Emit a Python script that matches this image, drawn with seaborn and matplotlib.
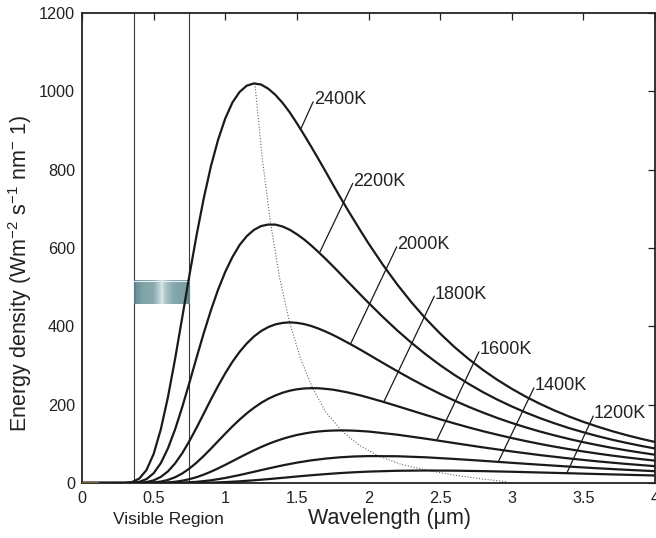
import numpy as np
import pandas as pd
import matplotlib
matplotlib.use("Agg")
import matplotlib.pyplot as plt
import seaborn as sns

# ---------------- data ----------------
# fine wavelength grid for the rising part and peaks (um)
wl_head = [0.0, 0.3, 0.35, 0.4, 0.45, 0.5, 0.55, 0.6, 0.65, 0.7, 0.75, 0.8,
           0.85, 0.9, 0.95, 1.0, 1.05, 1.1, 1.15, 1.2, 1.25, 1.3, 1.35, 1.4,
           1.45, 1.5, 1.55, 1.6, 1.65, 1.7, 1.75, 1.8, 1.85, 1.9, 1.95, 2.0]
wl_tail_fine = [2.1, 2.2, 2.3, 2.4, 2.5, 2.6, 2.7, 2.8, 2.9, 3.0, 3.1, 3.2,
                3.3, 3.4, 3.5, 3.6, 3.7, 3.8, 3.9, 4.0]
wl_tail_coarse = [2.2, 2.4, 2.6, 2.8, 3.0, 3.2, 3.4, 3.6, 3.8, 4.0]
wl_coarse = [0.0, 0.3, 0.4, 0.5, 0.6, 0.7, 0.8, 0.9, 1.0, 1.1, 1.2, 1.3, 1.4,
             1.5, 1.6, 1.7, 1.8, 1.9, 2.0, 2.2, 2.4, 2.6, 2.8, 3.0, 3.2, 3.4,
             3.6, 3.8, 4.0]

e_2400 = [0, 0.3, 2.6, 11.3, 33.1, 74.0, 136.7, 219.3, 317.2, 423.3, 530.7,
          633.1, 727.0, 808.8, 876.3, 930.7, 971.4, 998.4, 1014.4, 1020.2,
          1017.4, 1006.8, 991.0, 970.6, 946.4, 918.5, 889.1, 858.7, 827.4,
          795.6, 763.1, 731.3, 700.4, 670.4, 640.7, 611.8,
          557.4, 507.2, 461.3, 419.4, 381.6, 347.2, 316.3, 288.4, 263.2, 240.6,
          220.0, 201.6, 184.9, 169.8, 156.1, 143.8, 132.5, 122.3, 113.1, 104.7]
e_2200 = [0, 0.05, 0.5, 2.9, 9.9, 24.9, 50.7, 88.5, 137.0, 194.2, 256.5,
          320.4, 382.8, 441.0, 493.7, 539.1, 576.8, 607.6, 630.2, 646.2,
          656.0, 659.9, 659.7, 654.9, 646.6, 635.2, 622.0, 606.6, 589.8,
          572.4, 554.2, 535.5, 516.4, 497.5, 478.6, 460.1,
          424.0, 389.8, 357.9, 328.3, 300.9, 275.9, 252.9, 231.8, 212.8, 195.5,
          179.6, 165.2, 152.2, 140.2, 129.5, 119.6, 110.6, 102.5, 95.0, 88.1]
e_2000 = [0, 0.0, 0.1, 0.6, 2.3, 6.7, 15.5, 29.7, 50.1, 76.3, 107.2,
          141.4, 177.2, 213.3, 247.8, 280.1, 309.4, 334.7, 356.2, 374.0,
          387.9, 398.0, 405.0, 408.7, 410.2, 408.9, 405.8, 400.9, 394.4,
          386.8, 378.4, 369.1, 359.2, 349.3, 338.9, 328.2,
          306.7, 285.7, 265.3, 245.9, 227.5, 210.3, 194.4, 179.7, 165.9, 153.3,
          141.8, 131.1, 121.4, 112.4, 104.2, 96.7, 89.7, 83.4, 77.6, 72.2]
e_1800 = [0, 0.0, 0.0, 0.1, 0.4, 1.4, 3.6, 7.9, 14.7, 24.4, 37.0,
          52.1, 69.2, 87.7, 106.8, 125.9, 144.5, 161.8, 177.8, 191.9,
          204.5, 215.0, 223.5, 230.5, 235.7, 239.2, 241.3, 242.1, 241.9,
          240.4, 238.4, 235.2, 231.6, 227.5, 223.0, 218.0,
          207.5, 196.4, 185.0, 173.7, 162.6, 152.1, 141.9, 132.2, 123.3, 114.8,
          106.9, 99.5, 92.7, 86.4, 80.5, 75.1, 70.0, 65.4, 61.1, 57.1]
e_1600 = [0, 0.0, 0.0, 0.0, 0.04, 0.2, 0.6, 1.5, 3.2, 5.9, 9.8,
          14.9, 21.4, 28.9, 37.3, 46.3, 55.7, 65.2, 74.4, 83.4,
          91.8, 99.5, 106.5, 112.7, 118.0, 122.6, 126.2, 129.3, 131.5,
          133.0, 133.9, 134.3, 134.2, 133.6, 132.6, 131.4,
          123.4, 113.1, 101.9, 90.9, 80.6, 71.1, 62.7, 55.2, 48.7, 43.0]
e_1400 = [0, 0.0, 0.0, 0.0, 0.2, 0.9, 3.0, 6.9, 12.8, 20.3, 28.6,
          37.0, 45.0, 52.0, 57.8, 62.3, 65.6, 67.7, 68.7, 68.3, 65.6,
          61.4, 56.6, 51.5, 46.6, 41.9, 37.6, 33.7, 30.2]
e_1200 = [0, 0.0, 0.0, 0.0, 0.0, 0.1, 0.4, 1.0, 2.3, 4.3, 6.9,
          9.9, 13.2, 16.6, 19.8, 22.7, 25.3, 27.4, 29.1, 31.2, 31.9,
          31.5, 30.3, 28.7, 26.8, 24.9, 22.9, 21.0, 19.1]

temperatures = ["2400K", "2200K", "2000K", "1800K", "1600K", "1400K", "1200K"]
series = [e_2400, e_2200, e_2000, e_1800, e_1600, e_1400, e_1200]
series_x = [wl_head + wl_tail_fine, wl_head + wl_tail_fine,
            wl_head + wl_tail_fine, wl_head + wl_tail_fine,
            wl_head + wl_tail_coarse, wl_coarse, wl_coarse]

# locus of the maxima (dotted line)
peak_x = [1.207, 1.26, 1.317, 1.38, 1.449, 1.525, 1.61, 1.70, 1.811, 1.932,
          2.07, 2.229, 2.415, 2.6, 2.8, 2.97]
peak_y = [1020, 824, 662, 523, 410, 318, 242, 182, 134, 97,
          69, 47.5, 32, 20, 10, 3]

# label leader lines: (start x, start y) on curve -> (end x, end y)
lead_x0 = [1.529, 1.661, 1.876, 2.108, 2.476, 2.906, 3.384]
lead_y0 = [905, 590, 356, 208, 109, 54, 25]
lead_x1 = [1.613, 1.890, 2.197, 2.459, 2.771, 3.155, 3.569]
lead_y1 = [973, 765, 603, 477, 335, 243, 171]

visible_bounds = [0.363, 0.747]
band_y = [457, 517]
origin_seg_x = [0.0, 0.12]
origin_seg_y = [0.0, 0.0]

x_ticks = [0, 0.5, 1, 1.5, 2, 2.5, 3, 3.5, 4]
x_tick_labels = ["0", "0.5", "1", "1.5", "2", "2.5", "3", "3.5", "4"]
y_ticks = [0, 200, 400, 600, 800, 1000, 1200]

# ---------------- style ----------------
sns.set_theme(style="white")
plt.rcParams["font.family"] = ["Liberation Sans", "DejaVu Sans"]
plt.rcParams["mathtext.fontset"] = "custom"
plt.rcParams["mathtext.rm"] = "Liberation Sans"
plt.rcParams["mathtext.it"] = "Liberation Sans"
plt.rcParams["mathtext.default"] = "regular"

fig = plt.figure(figsize=(6.56, 5.38), dpi=100)
ax = fig.add_axes([82 / 656, 55 / 538, 573 / 656, 470 / 538])

frames = []
for lab, xs, ys in zip(temperatures, series_x, series):
    frames.append(pd.DataFrame({"wavelength": xs, "energy": ys, "T": lab}))
df = pd.concat(frames, ignore_index=True)

sns.lineplot(data=df, x="wavelength", y="energy", hue="T",
             hue_order=temperatures,
             palette=["#1a1a1a"] * len(temperatures), estimator=None,
             sort=True, linewidth=1.6, legend=False, ax=ax, zorder=3)

# small coloured segment near origin
ax.plot(origin_seg_x, origin_seg_y, color="#7a6430", lw=1.6, zorder=4,
        solid_capstyle="butt")

# dotted locus of the maxima
sns.lineplot(x=peak_x, y=peak_y, color="#666666", linestyle=(0, (1, 1.6)),
             linewidth=0.8, estimator=None, sort=False, ax=ax, zorder=2)

# visible region lines
for xv in visible_bounds:
    ax.axvline(xv, color="#3a3a3a", lw=0.8, zorder=1)

# spectrum band
grad_pos = [0.0, 0.04, 0.15, 0.35, 0.44, 0.50, 0.56, 0.70, 0.92, 1.0]
grad_col = ["#4c7a80", "#6a9298", "#7fa2a7", "#88aaaf", "#b3cacd",
            "#dbe6e8", "#aec6c9", "#88a9ae", "#7a9fa4", "#557f85"]
cmap = matplotlib.colors.LinearSegmentedColormap.from_list(
    "band", list(zip(grad_pos, grad_col)))
grad = np.linspace(0, 1, 256).reshape(1, -1)
ax.imshow(grad, cmap=cmap, aspect="auto",
          extent=[visible_bounds[0], visible_bounds[1], band_y[0], band_y[1]],
          zorder=1.5, interpolation="bilinear")
ax.plot(visible_bounds, [band_y[1], band_y[1]], color="#e6eeef", lw=0.8,
        zorder=1.6)

# labels with leader lines
for lab, x0, y0, x1, y1 in zip(temperatures, lead_x0, lead_y0, lead_x1, lead_y1):
    ax.plot([x0, x1], [y0, y1], color="#1a1a1a", lw=0.9, zorder=4)
    ax.text(x1 + 0.005, y1 - 6, lab, fontsize=13, color="#222222",
            ha="left", va="baseline", zorder=5)

ax.set_xlim(0, 4)
ax.set_ylim(0, 1200)
ax.set_xticks(x_ticks)
ax.set_xticklabels(x_tick_labels)
ax.set_yticks(y_ticks)
ax.tick_params(direction="in", length=5, width=0.9, colors="#222222",
               labelsize=11.7, top=True, right=True, labeltop=False,
               labelright=False, pad=5)
ax.tick_params(axis="x", pad=6)
for sp in ax.spines.values():
    sp.set_color("#222222")
    sp.set_linewidth(1.3)
    sp.set_visible(True)

ax.set_xlabel("Wavelength (\u03bcm)", fontsize=15.5, color="#222222")
ax.xaxis.set_label_coords(0.5375, -0.053)
ax.set_ylabel(r"Energy density (Wm$^{-2}$ s$^{-1}$ nm$^{-}$ 1)", fontsize=15.5,
              color="#222222")
ax.yaxis.set_label_coords(-0.083, 0.447)

ax.text(0.604, -0.077, "Visible Region", fontsize=12.5, color="#222222",
        ha="center", va="center",
        transform=matplotlib.transforms.blended_transform_factory(
            ax.transData, ax.transAxes))

fig.savefig("out.png", dpi=100)
